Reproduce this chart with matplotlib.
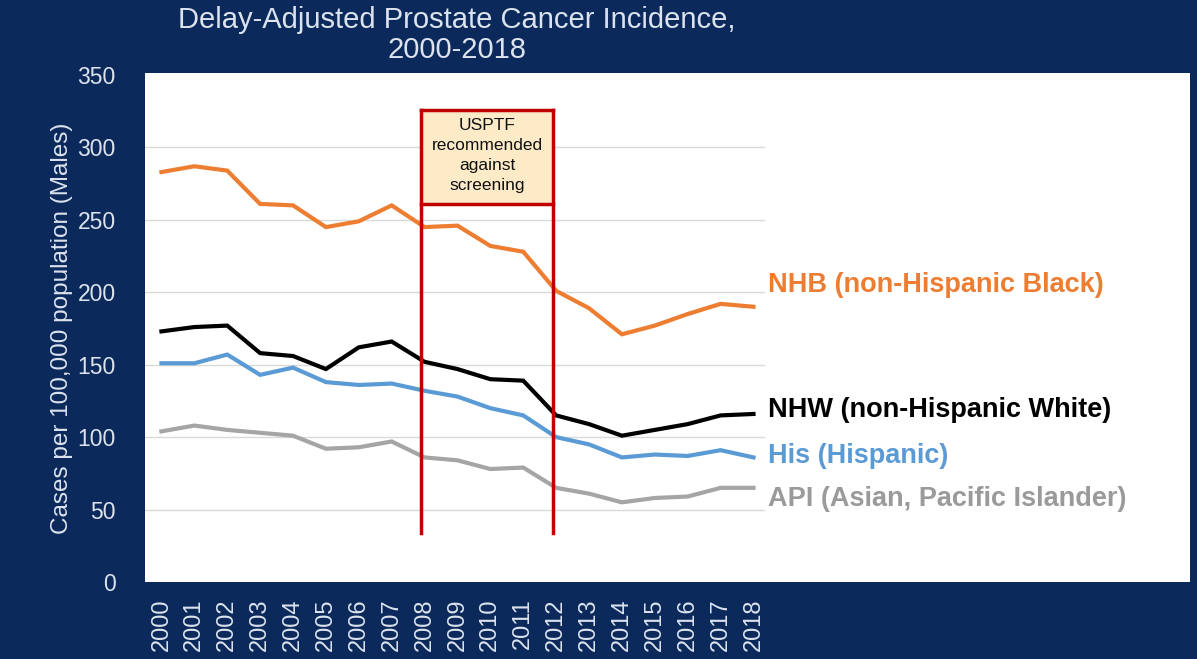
import matplotlib
matplotlib.use("Agg")
import matplotlib.pyplot as plt
from matplotlib.patches import Rectangle

plt.rcParams['font.family'] = ['Liberation Sans', 'DejaVu Sans']

years = list(range(2000, 2019))
nhb = [283, 287, 284, 261, 260, 245, 249, 260, 245, 246, 232, 228, 201, 189, 171, 177, 185, 192, 190]
nhw = [173, 176, 177, 158, 156, 147, 162, 166, 152, 147, 140, 139, 115, 109, 101, 105, 109, 115, 116]
his = [151, 151, 157, 143, 148, 138, 136, 137, 132, 128, 120, 115, 100, 95, 86, 88, 87, 91, 86]
api = [104, 108, 105, 103, 101, 92, 93, 97, 86, 84, 78, 79, 65, 61, 55, 58, 59, 65, 65]

labels = ["NHB (non-Hispanic Black)", "NHW (non-Hispanic White)",
          "His (Hispanic)", "API (Asian, Pacific Islander)"]
label_y = [205, 119, 87, 57]
colors = ["#ED7D31", "#000000", "#5B9BD5", "#A5A5A5"]
label_colors = ["#ED7D31", "#000000", "#5B9BD5", "#9A9A9A"]

# USPSTF box: years and value range
box_x0, box_x1 = 2007.9, 2011.9
box_low, box_mid, box_top = 34, 261, 326

navy = "#0B2A5B"
light = "#DCE3EE"

W, H = 1197, 659
fig = plt.figure(figsize=(W / 100, H / 100), dpi=100, facecolor=navy)

# white chart panel
fig.patches.append(Rectangle((145 / W, (H - 582) / H), (1190 - 145) / W, (582 - 73) / H,
                             transform=fig.transFigure, facecolor="white",
                             edgecolor="none", zorder=0))

ax = fig.add_axes([145 / W, (H - 582) / H, (765 - 145) / W, (582 - 75) / H])
ax.set_facecolor("none")
ax.set_zorder(1)

for s, c in zip([nhb, nhw, his, api], colors):
    ax.plot(years, s, color=c, lw=3, solid_joinstyle="miter", zorder=3)

ax.set_xlim(1999.5, 2018.35)
ax.set_ylim(0, 350)
ax.set_yticks(range(0, 351, 50))
ax.set_xticks(years)
ax.set_xticklabels([str(y) for y in years], rotation=90)
for v in range(50, 301, 50):
    ax.axhline(v, color="#D9D9D9", lw=1, zorder=1)
for sp in ax.spines.values():
    sp.set_visible(False)
ax.tick_params(length=0, colors=light, labelsize=17)
ax.tick_params(axis="y", pad=21, labelsize=16.5)
ax.tick_params(axis="x", pad=12)
ax.set_ylabel("Cases per 100,000 population (Males)", color=light, fontsize=17.5, labelpad=3)

# recommendation box
red = "#C00000"
ax.fill_between([box_x0, box_x1], box_mid, box_top, color="#FDEBC8", zorder=2)
ax.plot([box_x0, box_x0], [box_low, box_top], color=red, lw=2.5, zorder=4)
ax.plot([box_x1, box_x1], [box_low, box_top], color=red, lw=2.5, zorder=4)
ax.plot([box_x0, box_x1], [box_top, box_top], color=red, lw=2.5, zorder=4)
ax.plot([box_x0, box_x1], [box_mid, box_mid], color=red, lw=2.5, zorder=4)
ax.text((box_x0 + box_x1) / 2, (box_mid + box_top) / 2 + 1,
        "USPTF\nrecommended\nagainst\nscreening", ha="center", va="center",
        fontsize=12.5, color="#111111", linespacing=1.4, zorder=5)

for t, yv, c in zip(labels, label_y, label_colors):
    ax.text(2018.45, yv, t, color=c, fontsize=19.5, fontweight="bold",
            va="center", ha="left", clip_on=False)

fig.text(457 / W, 1 - 20 / H, "Delay-Adjusted Prostate Cancer Incidence,",
         ha="center", va="center", color=light, fontsize=21)
fig.text(457 / W, 1 - 50 / H, "2000-2018",
         ha="center", va="center", color=light, fontsize=21)

fig.savefig("out.png", dpi=100, facecolor=navy)
